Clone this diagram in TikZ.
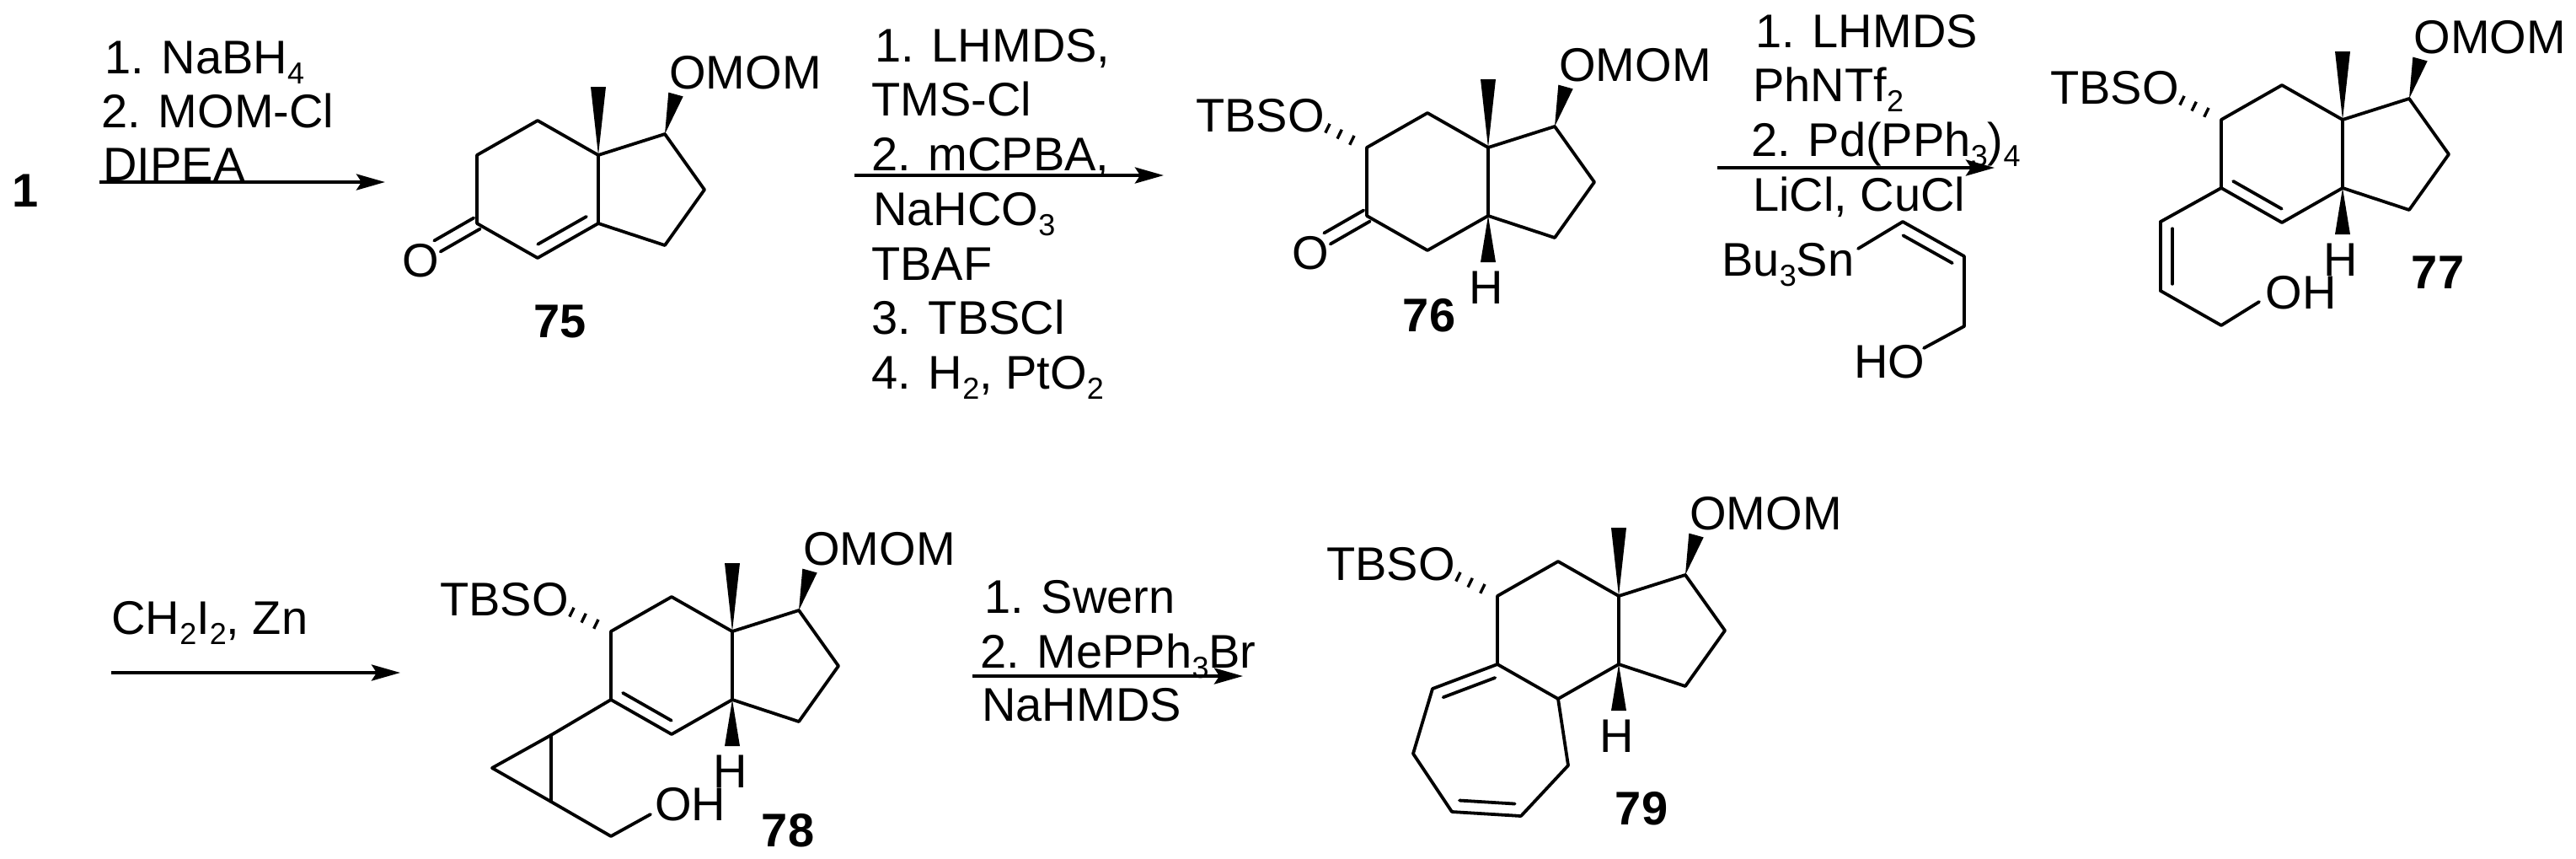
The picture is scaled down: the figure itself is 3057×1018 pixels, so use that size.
\documentclass[tikz,border=0pt]{standalone}
\usepackage{fontspec}
\setmainfont{Liberation Sans}
\usetikzlibrary{arrows.meta,calc}
\tikzset{%
  >={Stealth[length=17pt,width=9.5pt,inset=3pt]},
  % Specifications for style of nodes:
       atomlabel/.style = {anchor=base west, inner sep=0pt,
                           font=\fontsize{28}{34}\selectfont},
         reagent/.style = {atomlabel},
        hydrogen/.style = {atomlabel, anchor=base},
      compoundno/.style = {atomlabel, anchor=base,
                           font=\fontsize{28}{34}\selectfont\bfseries},
  % Specifications for style of lines:
            bond/.style = {line width=1.9pt, line join=round, line cap=round},
        hashline/.style = {line width=1.7pt},
        rxnarrow/.style = {->, line width=2.1pt},
}
\newcommand{\idx}[1]{\raisebox{-6pt}{\fontsize{18}{18}\selectfont #1}}
% solid wedge, thin end on the first coordinate
\newcommand{\wedgebond}[2]{%
  \fill ($(#2)!4.5pt!90:(#1)$) -- (#1) -- ($(#2)!4.5pt!-90:(#1)$) -- cycle;}
\newcommand{\hashbond}[2]{%
  \draw[hashline] ($(#1)!.36!(#2)!3pt!90:(#2)$) -- ($(#1)!.36!(#2)!3pt!-90:(#2)$);
  \draw[hashline] ($(#1)!.66!(#2)!3pt!90:(#2)$) -- ($(#1)!.66!(#2)!3pt!-90:(#2)$);
  \draw[hashline] ($(#1)!.95!(#2)!3pt!90:(#2)$) -- ($(#1)!.95!(#2)!3pt!-90:(#2)$);}
% bond with a shorter second line on one side (#3 = 90 or -90)
\newcommand{\doublebond}[3]{%
  \draw[bond] (#1) -- (#2);
  \draw[bond] ($(#1)!.1!(#2)!7pt!#3:(#2)$) -- ($(#1)!.9!(#2)!7pt!#3:(#2)$);}
% the two rings, the methyl and the OMOM that all compounds share
\newcommand{\hydrindane}[3]{%
  \begin{scope}[shift={(#2,#3)}]
    \coordinate (#1a) at (0,0);
    \coordinate (#1b) at (-72,41);
    \coordinate (#1c) at (-72,122);
    \coordinate (#1d) at (0,163);
    \coordinate (#1e) at (72,122);
    \coordinate (#1f) at (72,41);
    \coordinate (#1g) at (151,16);
    \coordinate (#1h) at (198,82);
    \coordinate (#1i) at (151,148);
    \coordinate (#1me) at (72,-40);
    \coordinate (#1ow) at (164,-31);
    \node (#1omom) [atomlabel] at (156,-38) {OMOM};
  \end{scope}
  \draw[bond] (#1e) -- (#1f) -- (#1a) -- (#1b) -- (#1c);
  \draw[bond] (#1f) -- (#1g) -- (#1h) -- (#1i) -- (#1e);
  \wedgebond{#1f}{#1me}
  \wedgebond{#1g}{#1ow}}
\newcommand{\tbso}[1]{%
  \coordinate (#1hs) at ($(#1b)+(-49,-24)$);
  \node (#1tbso) [atomlabel] at ($(#1b)+(-203,-19)$) {TBSO};
  \hashbond{#1b}{#1hs}}
\newcommand{\hstereo}[1]{%
  \coordinate (#1hw) at ($(#1e)+(0,55)$);
  \node (#1h1) [hydrogen] at ($(#1e)+(-2,104)$) {H};
  \wedgebond{#1e}{#1hw}}
\newcommand{\ketone}[1]{%
  \coordinate (#1co) at ($(#1c)+(-47,27)$);
  \node (#1o) [atomlabel] at ($(#1c)+(-89,63)$) {O};
  \draw[bond] ($(#1c)!3.75pt!90:(#1co)$) -- ($(#1co)!3.75pt!-90:(#1c)$);
  \draw[bond] ($(#1c)!3.75pt!-90:(#1co)$) -- ($(#1co)!3.75pt!90:(#1c)$);}

\begin{document}
\begin{tikzpicture}[x=.5pt, y=-.5pt]
  \useasboundingbox (0,0) rectangle (3057,1018);
  % Specification of the reaction arrows
  \coordinate (arrow1s) at (118,216);   \coordinate (arrow1e) at (457,216);
  \coordinate (arrow2s) at (1014,208);  \coordinate (arrow2e) at (1381,208);
  \coordinate (arrow3s) at (2038,199);  \coordinate (arrow3e) at (2367,199);
  \coordinate (arrow4s) at (132,798);   \coordinate (arrow4e) at (475,798);
  \coordinate (arrow5s) at (1154,802);  \coordinate (arrow5e) at (1475,802);
  \draw[rxnarrow] (arrow1s) -- (arrow1e);
  \draw[rxnarrow] (arrow2s) -- (arrow2e);
  \draw[rxnarrow] (arrow3s) -- (arrow3e);
  \draw[rxnarrow] (arrow4s) -- (arrow4e);
  \draw[rxnarrow] (arrow5s) -- (arrow5e);
  % Specification of the reagents over and under the arrows
  \node (start) [compoundno] at (30,245) {1};
  \node (r1a) [reagent] at (124,87) {1. NaBH\idx{4}};
  \node (r1b) [reagent] at (120,151) {2. MOM-Cl};
  \node (r1c) [reagent] at (122,214) {DIPEA};
  \node (r2a) [reagent] at (1038,73) {1. LHMDS,};
  \node (r2b) [reagent] at (1034,137) {TMS-Cl};
  \node (r2c) [reagent] at (1034,202) {2. mCPBA,};
  \node (r2d) [reagent] at (1036,267) {NaHCO\idx{3}};
  \node (r2e) [reagent] at (1034,332) {TBAF};
  \node (r2f) [reagent] at (1034,396) {3. TBSCl};
  \node (r2g) [reagent] at (1034,461) {4. H\idx{2}, PtO\idx{2}};
  \node (r3a) [reagent] at (2083,56) {1. LHMDS};
  \node (r3b) [reagent] at (2080,120) {PhNTf\idx{2}};
  \node (r3c) [reagent] at (2078,185) {2. Pd(PPh\idx{3})\idx{4}};
  \node (r3d) [reagent] at (2080,250) {LiCl, CuCl};
  \node (r4a) [reagent] at (132,752) {CH\idx{2}I\idx{2}, Zn};
  \node (r5a) [reagent] at (1168,727) {1. Swern};
  \node (r5b) [reagent] at (1163,792) {2. MePPh\idx{3}Br};
  \node (r5c) [reagent] at (1165,855) {NaHMDS};
  % the stannane under arrow 3
  \node (stannyl) [reagent] at (2043,327) {Bu\idx{3}Sn};
  \node (stanhyd) [reagent] at (2200,448) {HO};
  \coordinate (sn1) at (2205,295);
  \coordinate (sn2) at (2258,263);
  \coordinate (sn3) at (2331,304);
  \coordinate (sn4) at (2331,387);
  \coordinate (sn5) at (2283,413);
  \draw[bond] (sn1) -- (sn2);
  \doublebond{sn2}{sn3}{-90}
  \draw[bond] (sn3) -- (sn4) -- (sn5);
  % compound 75
  \hydrindane{mA}{638}{143}
  \ketone{mA}
  \draw[bond] (mAc) -- (mAd);
  \doublebond{mAe}{mAd}{-90}
  \node (no75) [compoundno] at (665,400) {75};
  % compound 76
  \hydrindane{mB}{1694}{134}
  \tbso{mB}
  \ketone{mB}
  \hstereo{mB}
  \draw[bond] (mBc) -- (mBd) -- (mBe);
  \node (no76) [compoundno] at (1696,393) {76};
  % compound 77
  \hydrindane{mC}{2708}{101}
  \tbso{mC}
  \hstereo{mC}
  \draw[bond] (mCd) -- (mCe);
  \doublebond{mCc}{mCd}{90}
  \coordinate (mCj) at (2564,263);
  \coordinate (mCk) at (2564,345);
  \coordinate (mCl) at (2636,386);
  \coordinate (mCm) at (2681,358);
  \node (mCoh) [atomlabel] at (2688,366) {OH};
  \draw[bond] (mCc) -- (mCj);
  \doublebond{mCj}{mCk}{90}
  \draw[bond] (mCk) -- (mCl) -- (mCm);
  \node (no77) [compoundno] at (2893,342) {77};
  % compound 78
  \hydrindane{mD}{797}{708}
  \tbso{mD}
  \hstereo{mD}
  \draw[bond] (mDd) -- (mDe);
  \doublebond{mDc}{mDd}{90}
  \coordinate (mDj) at (654,872);
  \coordinate (mDk) at (584,911);
  \coordinate (mDl) at (654,951);
  \coordinate (mDm) at (725,992);
  \coordinate (mDn) at (772,966);
  \node (mDoh) [atomlabel] at (777,973) {OH};
  \draw[bond] (mDc) -- (mDj) -- (mDk) -- (mDl) -- (mDm) -- (mDn);
  \draw[bond] (mDj) -- (mDl);
  \node (no78) [compoundno] at (935,1004) {78};
  % compound 79
  \hydrindane{mE}{1849}{666}
  \tbso{mE}
  \hstereo{mE}
  \draw[bond] (mEc) -- (mEd) -- (mEe);
  \coordinate (mEj) at (1700,817);
  \coordinate (mEk) at (1677,894);
  \coordinate (mEl) at (1723,963);
  \coordinate (mEm) at (1805,968);
  \coordinate (mEn) at (1861,908);
  \doublebond{mEc}{mEj}{90}
  \draw[bond] (mEj) -- (mEk) -- (mEl);
  \doublebond{mEl}{mEm}{90}
  \draw[bond] (mEm) -- (mEn) -- (mEd);
  \node (no79) [compoundno] at (1948,978) {79};
\end{tikzpicture}
\end{document}
